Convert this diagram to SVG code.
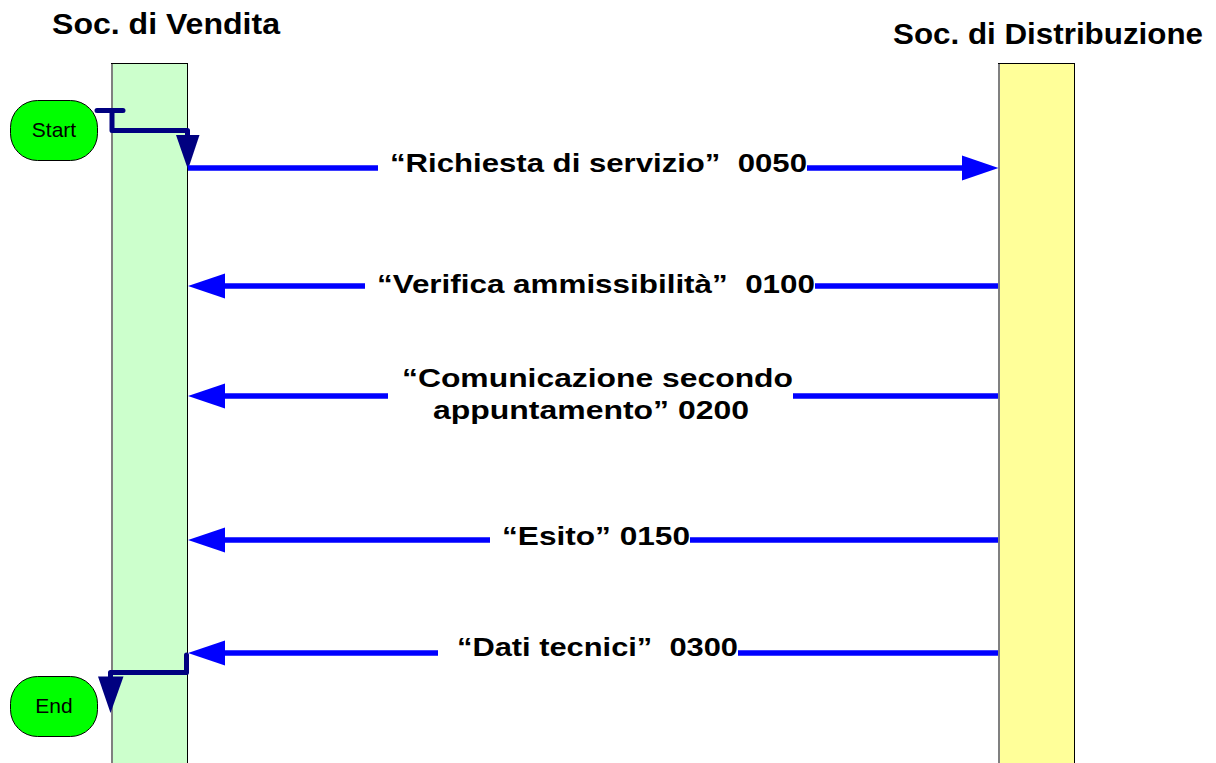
<svg xmlns="http://www.w3.org/2000/svg" width="1216" height="763" viewBox="0 0 1216 763">
<style>
.hdr{font-family:"Liberation Sans",Arial,sans-serif;font-weight:bold;font-size:29px;fill:#000}
.lbl{font-family:"Liberation Sans",Arial,sans-serif;font-weight:bold;font-size:25px;fill:#000}
.term{font-family:"Liberation Sans",Arial,sans-serif;font-size:21px;fill:#000;text-anchor:middle}
.msg{stroke:#0000FF;stroke-width:5.5;fill:none}
.ctl{stroke:#000080;stroke-width:5;fill:none;stroke-linejoin:round;stroke-linecap:round}
.ahb{fill:#0000FF}
.ahn{fill:#000080}
.node{fill:#00FF00;stroke:#000;stroke-width:1}
</style>
<rect width="1216" height="763" fill="#fff"/>
<g id="lane-vendita">
<rect x="111.5" y="63.5" width="76" height="705" fill="#CCFFCC" stroke="#000" stroke-width="1"/>
<line x1="112" y1="64" x2="112" y2="763" stroke="#808080" stroke-width="2"/>
<text class="hdr" x="52" y="33.5" textLength="228" lengthAdjust="spacingAndGlyphs">Soc. di Vendita</text>
</g>
<g id="lane-distribuzione">
<rect x="998.5" y="63.5" width="76" height="705" fill="#FFFF99" stroke="#000" stroke-width="1"/>
<line x1="999" y1="64" x2="999" y2="763" stroke="#808080" stroke-width="2"/>
<text class="hdr" x="893" y="44" textLength="310" lengthAdjust="spacingAndGlyphs">Soc. di Distribuzione</text>
</g>
<g id="start">
<rect class="node" x="10.5" y="100.5" width="87" height="60" rx="27" ry="27"/>
<text class="term" x="54" y="137">Start</text>
</g>
<g id="end">
<rect class="node" x="10.5" y="676.5" width="87" height="60" rx="27" ry="27"/>
<text class="term" x="54" y="713">End</text>
</g>
<g id="connectors">
<path class="ctl" d="M97,110.5 H123 M112,110.5 V130.5 H187.5 V140"/>
<polygon class="ahn" points="176,135 199.5,135 188,169.5"/>
<path class="ctl" d="M186.5,655 V672.5 H110.5 V680"/>
<polygon class="ahn" points="98,676.5 123.5,676.5 110.5,713"/>
<path class="msg" d="M188,168 H378 M807,168 H965"/>
<polygon class="ahb" points="962,155.5 998.5,168 962,180.5"/>
<path class="msg" d="M998,286 H815 M365,286 H222"/>
<polygon class="ahb" points="225,273.5 188,286 225,298.5"/>
<path class="msg" d="M998,396 H793 M388,396 H222"/>
<polygon class="ahb" points="225,383.5 188,396 225,408.5"/>
<path class="msg" d="M998,540 H690 M490,540 H222"/>
<polygon class="ahb" points="225,527.5 188,540 225,552.5"/>
<path class="msg" d="M998,653 H738 M438,653 H222"/>
<polygon class="ahb" points="225,640.5 188,653 225,665.5"/>
</g>
<g id="labels">
<text class="lbl" x="390" y="171.5" textLength="417" lengthAdjust="spacingAndGlyphs">“Richiesta di servizio”&#160; 0050</text>
<text class="lbl" x="377" y="293" textLength="438" lengthAdjust="spacingAndGlyphs">“Verifica ammissibilità”&#160; 0100</text>
<text class="lbl" x="402" y="386.5" textLength="391" lengthAdjust="spacingAndGlyphs">“Comunicazione secondo</text>
<text class="lbl" x="433" y="419" textLength="316" lengthAdjust="spacingAndGlyphs">appuntamento” 0200</text>
<text class="lbl" x="502" y="545" textLength="188" lengthAdjust="spacingAndGlyphs">“Esito” 0150</text>
<text class="lbl" x="457" y="655.5" textLength="281" lengthAdjust="spacingAndGlyphs">“Dati tecnici”&#160; 0300</text>
</g>
</svg>
